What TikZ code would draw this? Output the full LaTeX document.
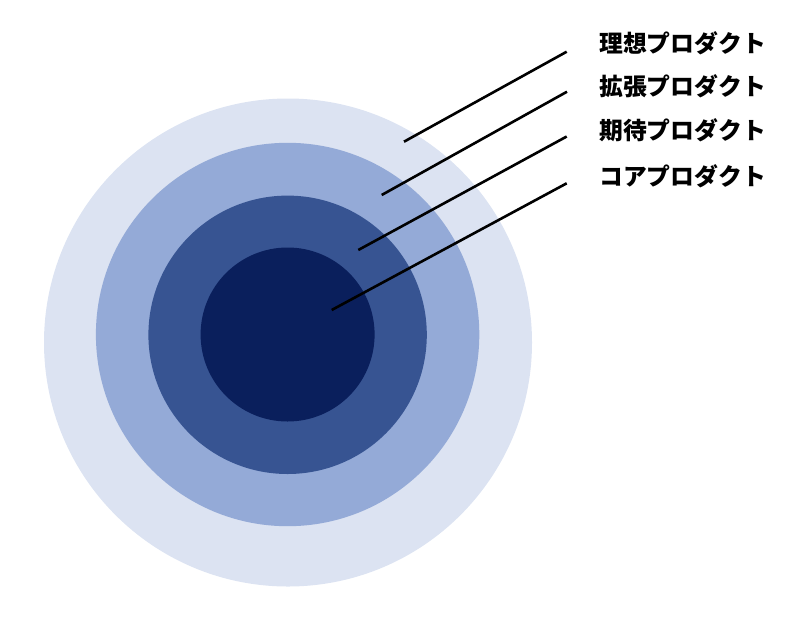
\documentclass[tikz,border=0pt]{standalone}
\usepackage{fontspec}
\newfontfamily\cjk{Noto Sans CJK JP}
\definecolor{ring1}{RGB}{220,227,242}
\definecolor{ring2}{RGB}{148,170,215}
\definecolor{ring3}{RGB}{55,84,146}
\definecolor{ring4}{RGB}{10,31,92}
\tikzset{
  lbl/.style={anchor=west,inner sep=0pt,font=\cjk\bfseries\fontsize{23.8}{28}\selectfont},
  leader/.style={line width=2.6pt,black},
}
\begin{document}
\begin{tikzpicture}[x=1pt,y=-1pt]
\useasboundingbox (0,0) rectangle (800,619);
\fill[ring1] (288,342.5) circle (244);
\fill[ring2] (287.6,334.5) circle (191.7);
\fill[ring3] (287.6,334.8) circle (139.2);
\fill[ring4] (287.6,334.5) circle (87);
\node[lbl] (l1) at (599,43.5) {理想プロダクト};
\node[lbl] (l2) at (599,86) {拡張プロダクト};
\node[lbl] (l3) at (599,130) {期待プロダクト};
\node[lbl] (l4) at (599,176.5) {コアプロダクト};
\coordinate (s1) at (404,141.7);
\coordinate (s2) at (381.7,195);
\coordinate (s3) at (358.3,250);
\coordinate (s4) at (331.7,310);
\coordinate (e1) at (566.7,51.7);
\coordinate (e2) at (567,91.7);
\coordinate (e3) at (566.7,136.5);
\coordinate (e4) at (566.7,183.3);
\draw[leader] (s1) -- (e1);
\draw[leader] (s2) -- (e2);
\draw[leader] (s3) -- (e3);
\draw[leader] (s4) -- (e4);
\end{tikzpicture}
\end{document}
